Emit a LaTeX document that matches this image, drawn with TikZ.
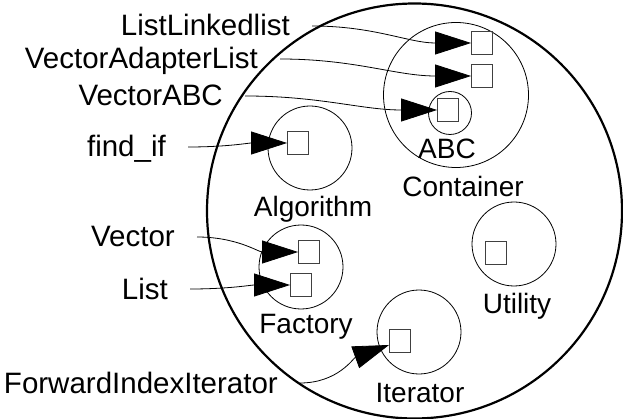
\documentclass[tikz,border=0pt]{standalone}
\usepackage{fontspec}
\setmainfont{Liberation Sans}
\usetikzlibrary{arrows.meta}

\begin{document}
\begin{tikzpicture}[x=1pt,y=-1pt,font=\fontsize{28}{30}\selectfont,
  pkg/.style={shape=circle,draw,line width=0.8pt,minimum size=84pt,inner sep=0},
  cls/.style={shape=rectangle,draw=black!75,line width=0.9pt,minimum width=21pt,minimum height=23pt,inner sep=0},
  lbl/.style={anchor=east,inner xsep=22pt,inner ysep=0,text height=20pt,text depth=0pt,font=\fontsize{29.5}{31}\selectfont},
  pkgname/.style={anchor=base,inner sep=0},
  dep/.style={line width=0.8pt,-{Triangle[length=36pt,width=23pt]}}]
\useasboundingbox (0,0) rectangle (623,419);
\node[pkg,minimum size=415pt,line width=2.2pt] (system) at (414.5,211) {};
\node[pkg,minimum size=145pt] (container) at (456,95) {};
\node[pkg,minimum size=43pt] (abc) at (450,113) {};
\node[pkg] (algorithm) at (310,148) {};
\node[pkg] (factory) at (301,267) {};
\node[pkg] (utility) at (514,244) {};
\node[pkg] (iterator) at (419,332) {};
\node[pkgname] (abcname) at (447,159) {ABC};
\node[pkgname] (containername) at (463,197) {Container};
\node[pkgname] (algorithmname) at (313,217) {Algorithm};
\node[pkgname] (factoryname) at (306,333) {Factory};
\node[pkgname] (utilityname) at (517,313) {Utility};
\node[pkgname] (iteratorname) at (420,402) {Iterator};
% classes
\node[cls] (llbox) at (482,43) {};
\node[cls] (valbox) at (482,76) {};
\node[cls] (vabcbox) at (448,110) {};
\node[cls] (findifbox) at (298,143) {};
\node[cls] (vecbox) at (309,252) {};
\node[cls] (lstbox) at (301,285) {};
\node[cls] (utilbox) at (496,253) {};
\node[cls] (fiibox) at (400,341) {};
% names outside
\node[lbl] (ll) at (312,26) {ListLinkedlist};
\node[lbl] (val) at (280,59) {VectorAdapterList};
\node[lbl] (vabc) at (245,96) {VectorABC};
\node[lbl] (findif) at (188,147) {find\_if};
\node[lbl] (vec) at (197,237) {Vector};
\node[lbl] (lst) at (190,289) {List};
\node[lbl] (fii) at (300,383) {ForwardIndexIterator};
\foreach \a/\b/\i in {ll/llbox/180,val/valbox/180,vabc/vabcbox/180,findif/findifbox/180,vec/vecbox/180,lst/lstbox/180,fii/fiibox/200}
  \draw[dep] (\a) to[out=0,in=\i] (\b);
\end{tikzpicture}
\end{document}
